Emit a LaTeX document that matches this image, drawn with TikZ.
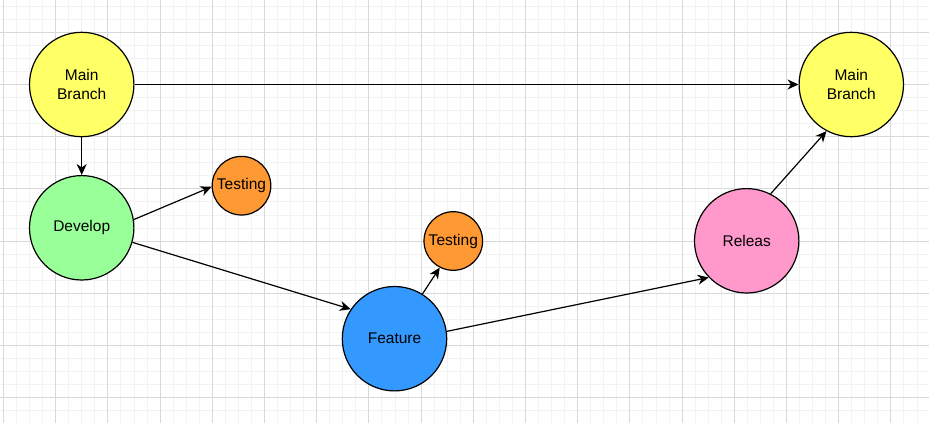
\documentclass[tikz,border=0pt]{standalone}
\usepackage{fontspec}
\setmainfont{Liberation Sans}
\usetikzlibrary{arrows.meta}
\definecolor{gridminor}{RGB}{242,242,242}
\definecolor{gridmajor}{RGB}{216,216,216}
\definecolor{cyellow}{RGB}{255,255,102}
\definecolor{cgreen}{RGB}{153,255,153}
\definecolor{corange}{RGB}{255,153,51}
\definecolor{cblue}{RGB}{51,153,255}
\definecolor{cpink}{RGB}{255,153,204}
\tikzset{
  bignode/.style={circle,draw=black,line width=1.2pt,minimum size=104.4pt,inner sep=0pt,align=center,
    font=\fontsize{15.5}{18.4}\selectfont},
  smallnode/.style={circle,draw=black,line width=1.2pt,minimum size=58.6pt,inner sep=0pt,align=center,
    font=\fontsize{15.5}{18.4}\selectfont},
  conn/.style={line width=1.2pt,-{Stealth[length=11pt,width=10pt,inset=3.5pt]}},
}
\begin{document}
\begin{tikzpicture}[x=1pt,y=-1pt]
\useasboundingbox (0,0) rectangle (929,423);
\fill[white] (0,0) rectangle (929,423);
% minor grid
\foreach \i in {-1,...,72} {
  \draw[gridminor,line width=1pt] ({3.5+13.05*\i},0) -- ({3.5+13.05*\i},423);
}
\foreach \j in {-3,...,32} {
  \draw[gridminor,line width=1pt] (0,{32.3+13.05*\j}) -- (929,{32.3+13.05*\j});
}
% major grid
\foreach \i in {0,...,18} {
  \draw[gridmajor,line width=0.9pt] ({3.5+52.2*\i},0) -- ({3.5+52.2*\i},423);
}
\foreach \j in {-1,...,8} {
  \draw[gridmajor,line width=0.9pt] (0,{32.3+52.2*\j}) -- (929,{32.3+52.2*\j});
}
% nodes
\node[bignode,fill=cyellow] (main1) at (81.7,84.5) {Main\\Branch};
\node[bignode,fill=cyellow] (main2) at (851.3,84.5) {Main\\Branch};
\node[bignode,fill=cgreen] (dev) at (81.7,227.8) {Develop};
\node[smallnode,fill=corange] (test1) at (241.5,185.7) {Testing};
\node[smallnode,fill=corange] (test2) at (453.3,241) {Testing};
\node[bignode,fill=cblue] (feat) at (394.5,338.7) {Feature};
\node[bignode,fill=cpink] (rel) at (746.7,240.8) {Releas};
% connectors
\draw[conn] (main1.south) -- (dev.north);
\draw[conn] (main1.east) -- (main2.west);
\draw[conn] (dev.9.4) -- (test1.182);
\draw[conn] (dev.-16.9) -- (feat.146.2);
\draw[conn] (feat.58.5) -- (test2.-117);
\draw[conn] (feat.8.5) -- (rel.-136);
\draw[conn] (rel.63.5) -- (main2.-118.8);
\end{tikzpicture}
\end{document}
